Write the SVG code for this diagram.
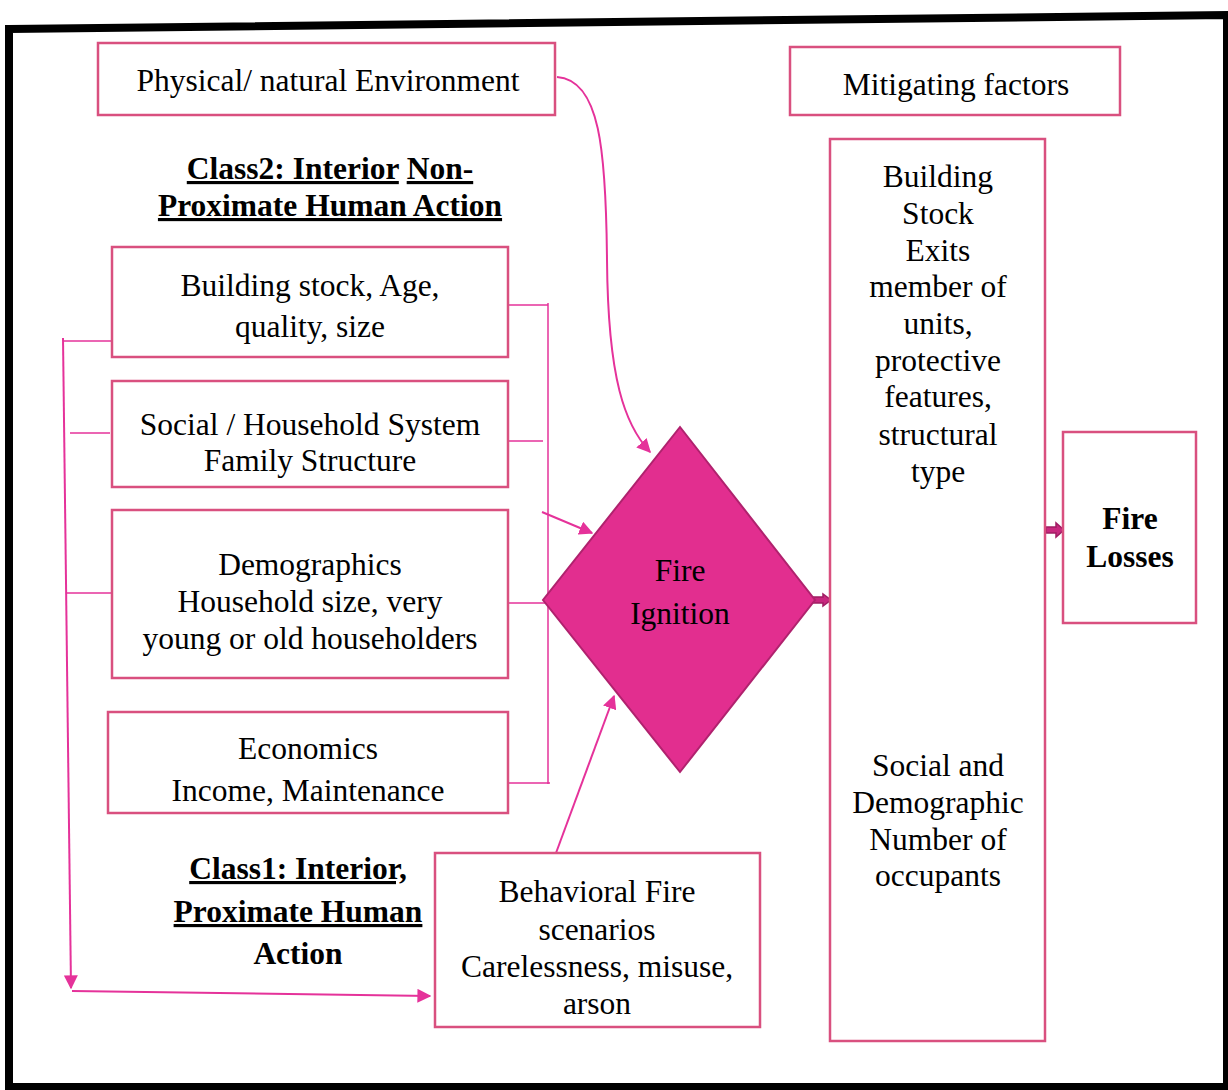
<svg xmlns="http://www.w3.org/2000/svg" width="1228" height="1090" viewBox="0 0 1228 1090">
<style>
.box{fill:#fff;stroke:#d9507f;stroke-width:2.5}
.t{font-family:"Liberation Serif","Times New Roman",serif;font-size:31.5px;text-anchor:middle;fill:#000}
.b{font-weight:bold}
.u{text-decoration:underline}
.c{fill:none;stroke:#e5329a;stroke-width:2}
.ct{fill:none;stroke:#e5329a;stroke-width:1.5}
.blk{fill:#c8287f;stroke:#a01c63;stroke-width:1.5}
</style>
<defs>
<marker id="ah" viewBox="0 0 10 10" refX="9" refY="5" markerWidth="7" markerHeight="7" orient="auto" markerUnits="strokeWidth">
<path d="M0,0 L10,5 L0,10 z" fill="#e5329a"/>
</marker>
</defs>
<rect width="1228" height="1090" fill="#fff"/>
<g id="frame">
<polygon points="9,29 1227,15 1227,1087 9,1087" fill="none" stroke="#000" stroke-width="8"/>
</g>
<g id="connectors">
<path class="c" d="M557,77 C600,80 606,150 607,260 C608,380 625,425 650,452" marker-end="url(#ah)"/>
<path class="ct" d="M548,303 L548,784"/>
<path class="ct" d="M508,305 L548,305"/>
<path class="ct" d="M508,441 L543,441"/>
<path class="ct" d="M508,603 L545,603"/>
<path class="ct" d="M508,783 L550,783"/>
<path class="c" d="M542,512 L592,533" marker-end="url(#ah)"/>
<path class="c" d="M556,853 L614,696" marker-end="url(#ah)"/>
<path class="c" d="M63,338 L71,988" marker-end="url(#ah)"/>
<path class="ct" d="M63,341 L112,341"/>
<path class="ct" d="M70,433 L110,433"/>
<path class="ct" d="M66,593 L115,593"/>
<path class="c" d="M72,991 L430,996" marker-end="url(#ah)"/>
<path class="blk" d="M807,597 L823,597 L823,594 L831,600 L823,606 L823,603 L807,603 z"/>
<path class="blk" d="M1046,527 L1056,527 L1056,523 L1064,530 L1056,537 L1056,533 L1046,533 z"/>
</g>
<g id="physical">
<rect class="box" x="98" y="43" width="457" height="72"/>
<text class="t" x="328" y="91">Physical/ natural Environment</text>
</g>
<g id="mitigating-title">
<rect class="box" x="790" y="47" width="330" height="68"/>
<text class="t" x="956" y="95">Mitigating factors</text>
</g>
<g id="class2">
<text class="t b" x="330" y="179"><tspan class="u">Class2: Interior</tspan> <tspan class="u">Non-</tspan></text>
<text class="t b u" x="330" y="216">Proximate Human Action</text>
</g>
<g id="building">
<rect class="box" x="112" y="247" width="396" height="110"/>
<text class="t" x="310" y="296">Building stock, Age,</text>
<text class="t" x="310" y="337">quality, size</text>
</g>
<g id="social">
<rect class="box" x="112" y="381" width="396" height="106"/>
<text class="t" x="310" y="435">Social / Household System</text>
<text class="t" x="310" y="471">Family Structure</text>
</g>
<g id="demographics">
<rect class="box" x="112" y="510" width="396" height="168"/>
<text class="t" x="310" y="575">Demographics</text>
<text class="t" x="310" y="612">Household size, very</text>
<text class="t" x="310" y="649">young or old householders</text>
</g>
<g id="economics">
<rect class="box" x="108" y="712" width="400" height="101"/>
<text class="t" x="308" y="759">Economics</text>
<text class="t" x="308" y="801">Income, Maintenance</text>
</g>
<g id="class1">
<text class="t b u" x="298" y="879">Class1: Interior,</text>
<text class="t b u" x="298" y="922">Proximate Human</text>
<text class="t b" x="298" y="964">Action</text>
</g>
<g id="behavioral">
<rect class="box" x="435" y="853" width="325" height="174"/>
<text class="t" x="597" y="902">Behavioral Fire</text>
<text class="t" x="597" y="940">scenarios</text>
<text class="t" x="597" y="977">Carelessness, misuse,</text>
<text class="t" x="597" y="1014">arson</text>
</g>
<g id="fire-ignition">
<polygon points="680,427 815,600 680,772 543,600" fill="#e22e8f" stroke="#b0226e" stroke-width="2"/>
<text class="t" x="680" y="581">Fire</text>
<text class="t" x="680" y="624">Ignition</text>
</g>
<g id="mitigating-factors">
<rect class="box" x="830" y="139" width="215" height="902"/>
<text class="t" x="938" y="187">Building</text>
<text class="t" x="938" y="224">Stock</text>
<text class="t" x="938" y="261">Exits</text>
<text class="t" x="938" y="297">member of</text>
<text class="t" x="938" y="334">units,</text>
<text class="t" x="938" y="371">protective</text>
<text class="t" x="938" y="407">features,</text>
<text class="t" x="938" y="445">structural</text>
<text class="t" x="938" y="482">type</text>
<text class="t" x="938" y="776">Social and</text>
<text class="t" x="938" y="813">Demographic</text>
<text class="t" x="938" y="850">Number of</text>
<text class="t" x="938" y="886">occupants</text>
</g>
<g id="fire-losses">
<rect class="box" x="1063" y="432" width="133" height="191"/>
<text class="t b" x="1130" y="529">Fire</text>
<text class="t b" x="1130" y="567">Losses</text>
</g>
</svg>
